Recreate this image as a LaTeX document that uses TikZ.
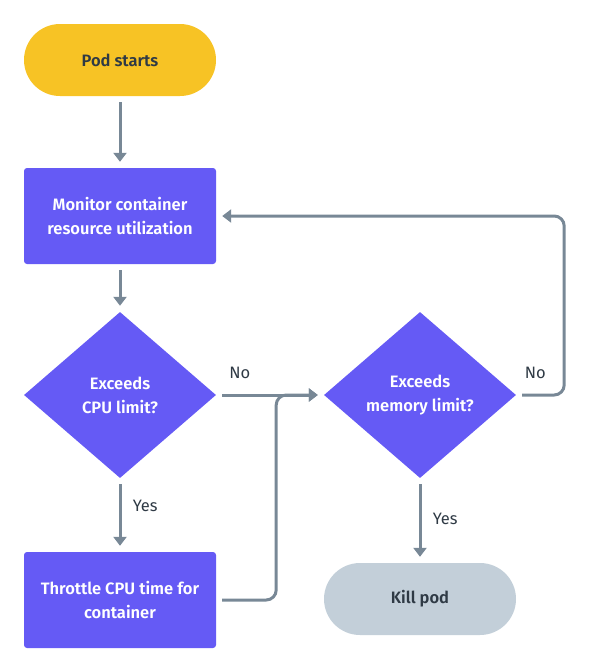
\documentclass[tikz,border=0pt]{standalone}
\usepackage{fontspec}
\setmainfont{Fira Sans}[BoldFont={Fira Sans SemiBold}]
\usepackage{xcolor}
\usepackage{tikz}
\usetikzlibrary{positioning,shapes.geometric,arrows.meta}

\definecolor{podyellow}{HTML}{F7C325}
\definecolor{stepblue}{HTML}{655AF5}
\definecolor{killgray}{HTML}{C3CFD9}
\definecolor{linegray}{HTML}{788896}
\definecolor{textdark}{HTML}{2F3A45}

\tikzset{
  terminal/.style={draw=none,rounded corners=36pt,minimum width=192pt,minimum height=72pt,
    font=\bfseries\fontsize{16.5}{19}\selectfont,text=textdark},
  stepbox/.style={draw=none,fill=stepblue,rounded corners=3pt,minimum width=192pt,minimum height=96pt,
    align=center,font=\bfseries\fontsize{16.5}{24}\selectfont,text=white},
  decision/.style={diamond,draw=none,fill=stepblue,minimum width=192pt,minimum height=166pt,inner sep=0pt,
    align=center,font=\bfseries\fontsize{16.5}{24}\selectfont,text=white},
  flow/.style={draw=linegray,line width=3pt,shorten <=6pt,shorten >=6pt,
    -{Triangle[length=9pt,width=13pt]}},
  answer/.style={font=\fontsize{16.5}{19}\selectfont,text=textdark}
}

\begin{document}
\begin{tikzpicture}[x=1pt,y=-1pt]
\useasboundingbox (0,0) rectangle (592,672);
\node [terminal,fill=podyellow] (start) at (120,60) {Pod starts};
\node [stepbox] (monitor) at (120,216) {Monitor container\\resource utilization};
\node [decision] (cpu) at (120,395) {Exceeds\\CPU limit?};
\node [decision] (memory) at (420,395) {Exceeds\\memory limit?};
\node [stepbox] (throttle) at (120,600) {Throttle CPU time for\\container};
\node [terminal,fill=killgray] (kill) at (420,599) {Kill pod};

\draw [flow] (start) -- (monitor);
\draw [flow] (monitor) -- (cpu);
\draw [flow] (cpu) -- (throttle) node [answer,pos=0.38,right=8pt] {Yes};
\draw [flow] (cpu) -- (memory) node [answer,pos=0.22,above=11pt] {No};
\draw [flow,rounded corners=10pt] (throttle.east) -- ++(60,0) |- (memory.west);
\draw [flow] (memory) -- (kill) node [answer,pos=0.48,right=8pt] {Yes};
\draw [flow,rounded corners=10pt] (memory.east) -- ++(48,0) node [answer,pos=0.4,above=11pt] {No}
  |- (monitor.east);
\end{tikzpicture}
\end{document}
